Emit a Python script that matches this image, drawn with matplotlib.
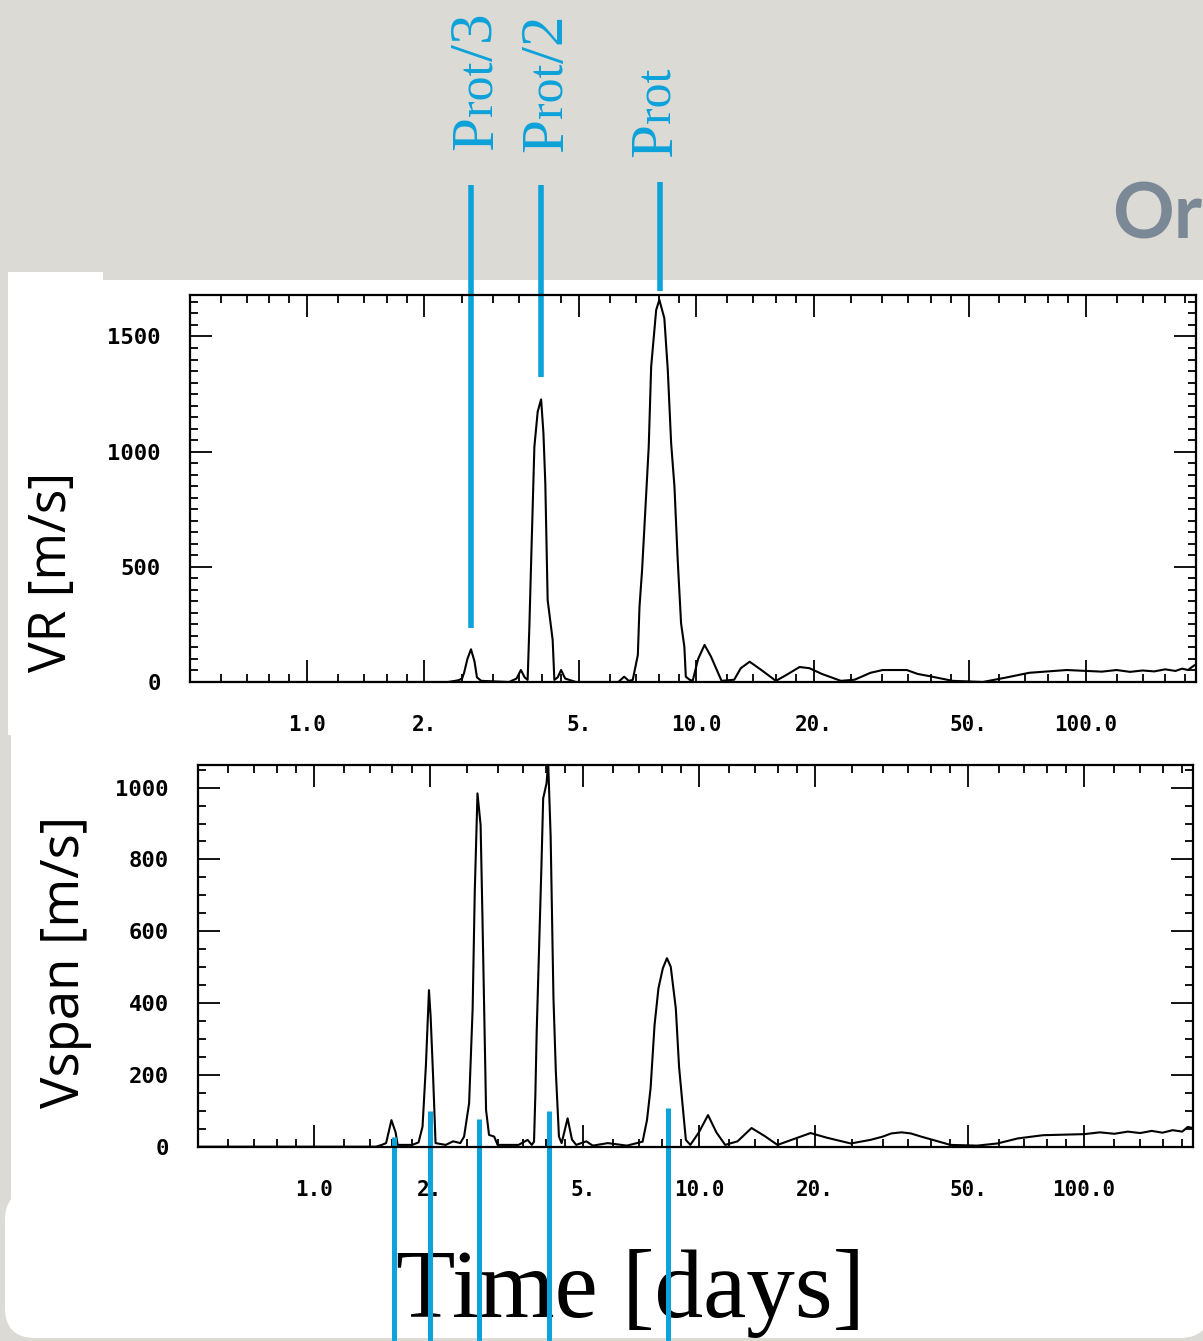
import matplotlib.pyplot as plt
from matplotlib import transforms
from matplotlib.patches import Rectangle, FancyBboxPatch
from matplotlib.ticker import FixedLocator, FixedFormatter, NullFormatter

plt.rcParams['font.family'] = 'DejaVu Sans Mono'
plt.rcParams['font.weight'] = 'bold'

W, H = 1203, 1341
BLUE = '#0ca2da'
PAPER = '#dcdad5'

# periodogram of the radial velocities (period in days, amplitude in m/s)
vr_period = [0.5, 2.3, 2.40, 2.45, 2.50, 2.53, 2.58, 2.635, 2.69, 2.73, 2.80,
             3.3, 3.45, 3.54, 3.62, 3.684, 3.722, 3.758, 3.834, 3.91, 3.99,
             4.045, 4.09, 4.147, 4.272, 4.315, 4.40, 4.49, 4.60, 4.9, 6.3,
             6.52, 6.7, 6.86, 7.07, 7.14, 7.25, 7.43, 7.54, 7.65, 7.88, 8.03,
             8.27, 8.44, 8.61, 8.78, 8.95, 9.13, 9.31, 9.39, 9.6, 9.78, 10.1,
             10.49, 10.9, 11.6, 12.5, 13.0, 13.7, 14.6, 16.0, 17.0, 18.4,
             19.5, 21.0, 23.5, 25.5, 28.0, 30.1, 34.7, 37.0, 39.8, 45.5, 54.4,
             62.7, 71.6, 89.4, 100.5, 110, 120, 130, 140, 150, 160, 170, 177,
             183, 190]
vr_amp = [0, 0, 5, 8, 15, 40, 100, 142, 90, 20, 5,
          0, 15, 52, 20, 9, 240, 500, 1021, 1174, 1227,
          1080, 863, 356, 182, 9, 20, 52, 15, 0, 0,
          23, 5, 9, 117, 327, 486, 819, 1021, 1369, 1615, 1659,
          1579, 1355, 1036, 848, 530, 255, 153, 23, 10, 5, 100,
          161, 110, 5, 10, 60, 88, 55, 5, 30, 65,
          60, 35, 5, 10, 40, 52, 52, 35, 25, 5, 0,
          20, 40, 52, 48, 45, 52, 44, 50, 46, 55, 48, 58,
          52, 72]

# periodogram of the bisector span
span_period = [0.5, 1.45, 1.50, 1.54, 1.59, 1.63, 1.65, 1.80, 1.87, 1.915,
               1.954, 1.99, 2.01, 2.04, 2.07, 2.2, 2.3, 2.40, 2.455, 2.53,
               2.584, 2.617, 2.66, 2.71, 2.74, 2.80, 2.85, 2.94, 3.0, 3.4,
               3.59, 3.68, 3.73, 3.76, 3.79, 3.90, 3.94, 4.02, 4.06, 4.12,
               4.19, 4.25, 4.33, 4.40, 4.56, 4.68, 4.8, 5.1, 5.3, 5.8, 6.5,
               7.14, 7.33, 7.49, 7.67, 7.85, 8.06, 8.26, 8.45, 8.71, 8.88,
               9.06, 9.25, 9.5, 10.0, 10.56, 11.1, 11.7, 12.6, 13.7, 14.8,
               16.0, 17.5, 19.5, 21.5, 24.8, 27.9, 30.0, 31.6, 33.6, 35.5,
               37.8, 40.5, 45, 52.8, 59.6, 67.3, 78.3, 100.2, 110, 120, 130,
               140, 150, 160, 170, 180, 186, 192]
span_amp = [0, 0, 5, 10, 74, 40, 5, 5, 12, 56,
            227, 436, 362, 195, 10, 5, 15, 10, 28, 121,
            385, 710, 984, 896, 641, 102, 33, 28, 5, 5,
            19, 5, 14, 144, 320, 785, 970, 1012, 1070, 864,
            414, 209, 28, 10, 79, 20, 5, 15, 3, 10, 3,
            14, 74, 163, 339, 441, 497, 525, 501, 385, 223,
            121, 19, 5, 40, 88, 40, 5, 15, 52, 30,
            5, 20, 38, 25, 9, 19, 28, 37, 40, 37,
            28, 19, 5, 3, 9, 23, 32, 35, 40, 36, 42,
            38, 44, 39, 46, 42, 55, 52]

major_ticks = [1, 2, 5, 10, 20, 50, 100]
major_labels = ['1.0', '2.', '5.', '10.0', '20.', '50.', '100.0']
minor_ticks = [0.6, 0.7, 0.8, 0.9, 1.2, 1.4, 1.6, 1.8, 2.5, 3, 3.5, 4, 4.5,
               6, 7, 8, 9, 12, 14, 16, 18, 25, 30, 35, 40, 45,
               60, 70, 80, 90, 120, 140, 160, 180]

# rotation period and its harmonics, as marked on the two panels
prot_marks = [2.64, 3.98, 8.05]
prot_labels = [[('P', 44), ('rot', 36), ('/3', 44)],
               [('P', 44), ('rot', 36), ('/2', 44)],
               [('P', 44), ('rot', 36)]]
span_marks = [1.61, 2.0, 2.69, 4.08, 8.3]


def fy(y):
    return 1 - y / H


def style_axes(ax, ymax, yticks, yminor):
    ax.set_xscale('log')
    ax.set_xlim(0.5, 192)
    ax.set_ylim(0, ymax)
    ax.xaxis.set_major_locator(FixedLocator(major_ticks))
    ax.xaxis.set_major_formatter(FixedFormatter(major_labels))
    ax.xaxis.set_minor_locator(FixedLocator(minor_ticks))
    ax.xaxis.set_minor_formatter(NullFormatter())
    ax.yaxis.set_major_locator(FixedLocator(yticks))
    ax.yaxis.set_minor_locator(FixedLocator(yminor))
    ax.tick_params(which='both', direction='in', top=True, right=True,
                   width=1.3, color='black')
    ax.tick_params(which='major', length=16)
    ax.tick_params(which='minor', length=6)
    ax.tick_params(axis='x', which='major', pad=24, labelsize=15)
    ax.tick_params(axis='y', which='major', pad=21, labelsize=16)
    for s in ax.spines.values():
        s.set_linewidth(1.6)


fig = plt.figure(figsize=(W / 100, H / 100), dpi=100)
fig.patch.set_facecolor(PAPER)

# slide background in pixel coordinates (y counted from the top)
bg = fig.add_axes([0, 0, 1, 1])
bg.set_zorder(-1)
bg.set_xlim(0, W)
bg.set_ylim(H, 0)
bg.axis('off')
bg.add_patch(Rectangle((8, 272), 95, 463, color='white', lw=0))
bg.add_patch(Rectangle((103, 280), 1100, 935, color='white', lw=0))
bg.add_patch(Rectangle((11, 735), 92, 480, color='white', lw=0))
bg.add_patch(FancyBboxPatch((5, 1190), 1205, 148, boxstyle='round,pad=0,rounding_size=30',
                            color='white', lw=0))
bg.text(1112, 238, 'Or', fontsize=55, fontfamily='Lato', fontweight='bold',
        color='#7a8995', ha='left', va='baseline')
bg.text(630, 1317, 'Time [days]', fontsize=70, fontfamily='Liberation Serif',
        fontweight='normal', color='black', ha='center', va='baseline')
bg.text(52, 572, 'VR [m/s]', fontsize=37, fontfamily='Open Sans', fontweight='normal',
        rotation=90, ha='center', va='center')
bg.text(65, 962, 'Vspan [m/s]', fontsize=38, fontfamily='Open Sans', fontweight='normal',
        rotation=90, ha='center', va='center')

ax1 = fig.add_axes([190 / W, fy(682), (1196 - 190) / W, (682 - 295) / H])
ax1.plot(vr_period, vr_amp, color='black', lw=1.5)
style_axes(ax1, 1680, [0, 500, 1000, 1500], list(range(50, 1680, 50)))

ax2 = fig.add_axes([198 / W, fy(1146.7), (1193 - 198) / W, (1146.7 - 765) / H])
ax2.plot(span_period, span_amp, color='black', lw=1.5)
style_axes(ax2, 1063, [0, 200, 400, 600, 800, 1000], list(range(50, 1063, 50)))

# harmonic markers above the radial velocity periodogram
renderer = fig.canvas.get_renderer()
t1 = transforms.blended_transform_factory(ax1.transData, fig.transFigure)
for p, parts, y0, y1, dx, yb in zip(prot_marks, prot_labels, [185, 185, 182],
                                    [628, 377, 291], [21, 22, 11], [150, 152, 157]):
    ax1.plot([p, p], [fy(y0), fy(y1)], transform=t1, color=BLUE, lw=4,
             clip_on=False, solid_capstyle='butt')
    # label reads upwards, pieces share one baseline just right of the line
    x = ax1.transData.transform((p, 0))[0] + dx
    y = yb
    for s, size in parts:
        t = bg.text(x, y, s, fontsize=size, fontfamily='Liberation Serif',
                    fontweight='normal', color=BLUE, rotation=90,
                    rotation_mode='anchor', ha='left', va='baseline')
        y -= t.get_window_extent(renderer).height

# the same harmonics on the span periodogram, running down past the axis
t2 = transforms.blended_transform_factory(ax2.transData, fig.transFigure)
for p, y0 in zip(span_marks, [1137, 1111, 1119, 1111, 1108]):
    ax2.plot([p, p], [fy(y0), 0], transform=t2, color=BLUE, lw=3.6,
             clip_on=False, solid_capstyle='butt')

fig.savefig('out.png', dpi=100, facecolor=fig.get_facecolor())
